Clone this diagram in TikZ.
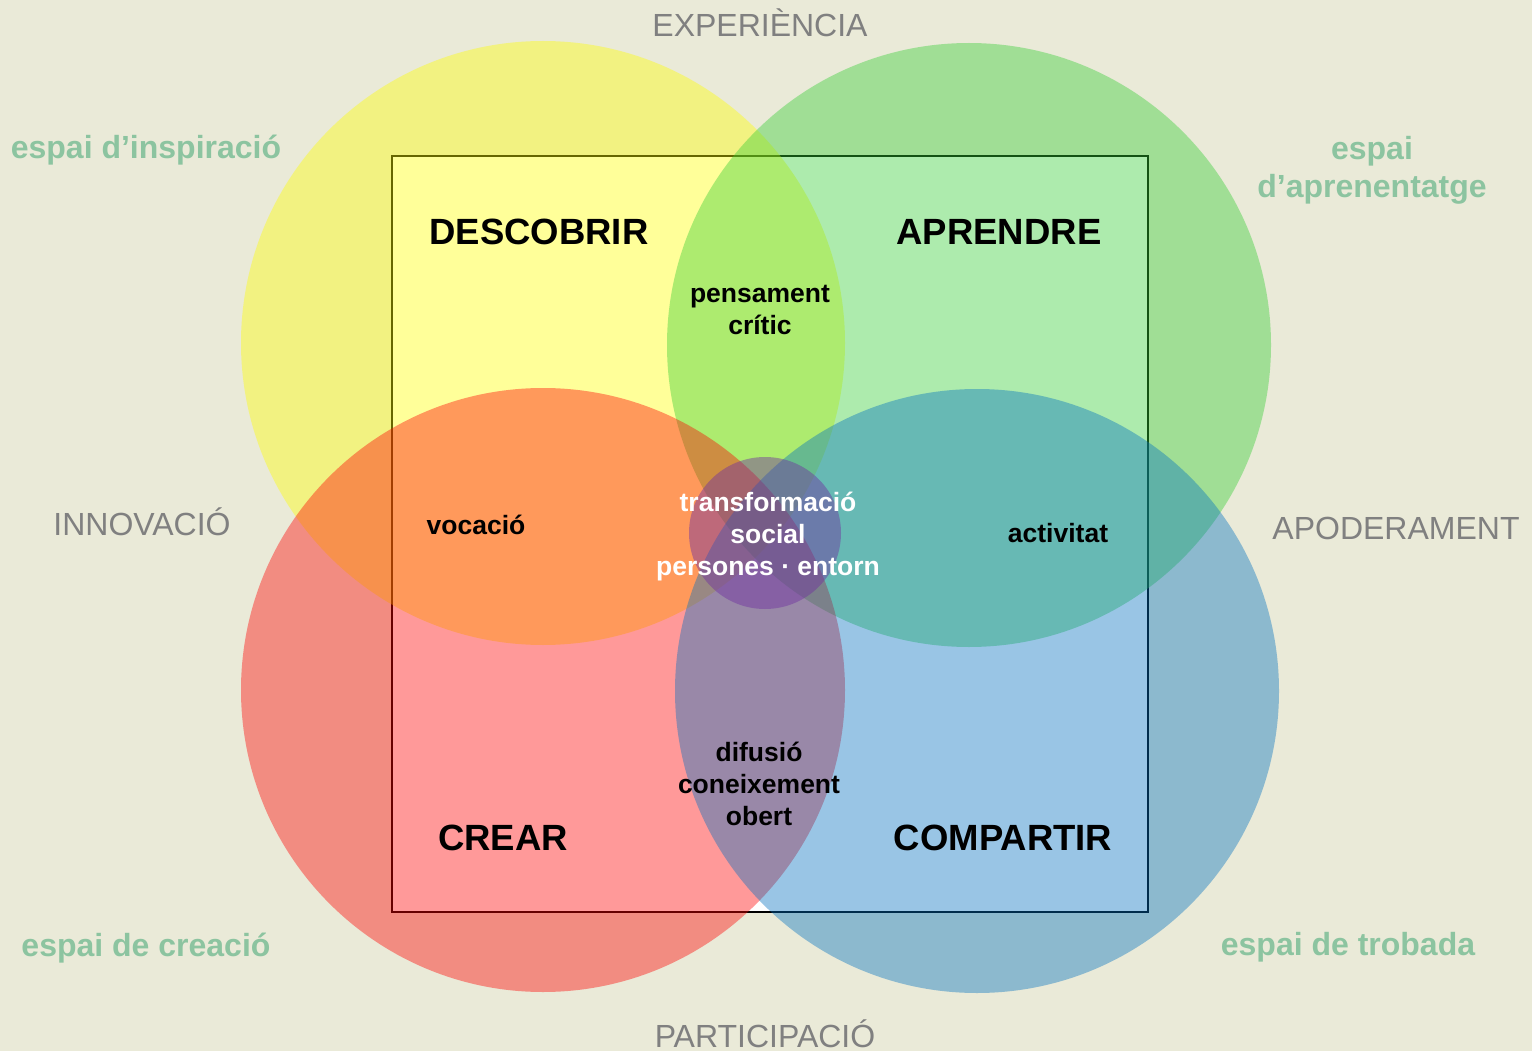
\documentclass[tikz,border=0pt]{standalone}
\usepackage{fontspec}
\setmainfont{Liberation Sans}
\definecolor{bgc}{RGB}{234,234,216}
\definecolor{greyt}{RGB}{128,128,128}
\definecolor{greent}{RGB}{140,196,160}
\definecolor{cyel}{RGB}{255,255,0}
\definecolor{cgrn}{RGB}{50,205,50}
\definecolor{cred}{RGB}{255,0,0}
\definecolor{cblu}{RGB}{0,112,192}
\definecolor{cpur}{RGB}{112,48,160}
\tikzset{
  venn/.style={fill opacity=0.4},
  axislbl/.style={anchor=base, text=greyt, font=\fontsize{32}{38}\selectfont},
  spacelbl/.style={anchor=base, text=greent, align=center, font=\fontsize{32}{38}\selectfont\bfseries},
  verblbl/.style={anchor=base, text=black, font=\fontsize{36.5}{43}\selectfont\bfseries},
  smalllbl/.style={anchor=base, text=black, align=center, font=\fontsize{26.5}{32}\selectfont\bfseries},
}
\begin{document}
\begin{tikzpicture}[x=1pt,y=-1pt]
\fill[bgc] (0,0) rectangle (1532,1051);
\useasboundingbox (0,0) rectangle (1532,1051);
% square
\draw[fill=white, line width=1.4pt] (392,156) rectangle (1148,912);
% circles
\fill[cyel, venn] (543,343) circle (302pt);
\fill[cgrn, venn] (969,345) circle (302pt);
\fill[cred, venn] (543,690) circle (302pt);
\fill[cblu, venn] (977,691) circle (302pt);
\fill[cpur, fill opacity=0.45] (765,533) circle (76pt);
% axis labels
\node[axislbl] (exp) at (760,37) {EXPERIÈNCIA};
\node[axislbl] (inn) at (142,535) {INNOVACIÓ};
\node[axislbl] (apo) at (1396,539) {APODERAMENT};
\node[axislbl] (par) at (765,1047) {PARTICIPACIÓ};
% space labels
\node[spacelbl] (insp) at (146,159) {espai d’inspiració};
\node[spacelbl] (apr) at (1372,198) {espai\\d’aprenentatge};
\node[spacelbl] (crea) at (146,956) {espai de creació};
\node[spacelbl] (trob) at (1348,955) {espai de trobada};
% verbs
\node[verblbl] (desc) at (539,245) {DESCOBRIR};
\node[verblbl] (apren) at (999,244) {APRENDRE};
\node[verblbl] (crear) at (503,850) {CREAR};
\node[verblbl] (comp) at (1003,850) {COMPARTIR};
% intersections
\node[smalllbl] (pens) at (760,334) {pensament\\crític};
\node[smalllbl] (voc) at (476,534) {vocació};
\node[smalllbl] (act) at (1058,542) {activitat};
\node[smalllbl] (dif) at (759,825) {difusió\\coneixement\\obert};
\node[smalllbl, text=white] (trans) at (768,575) {transformació\\social\\persones · entorn};
\end{tikzpicture}
\end{document}
